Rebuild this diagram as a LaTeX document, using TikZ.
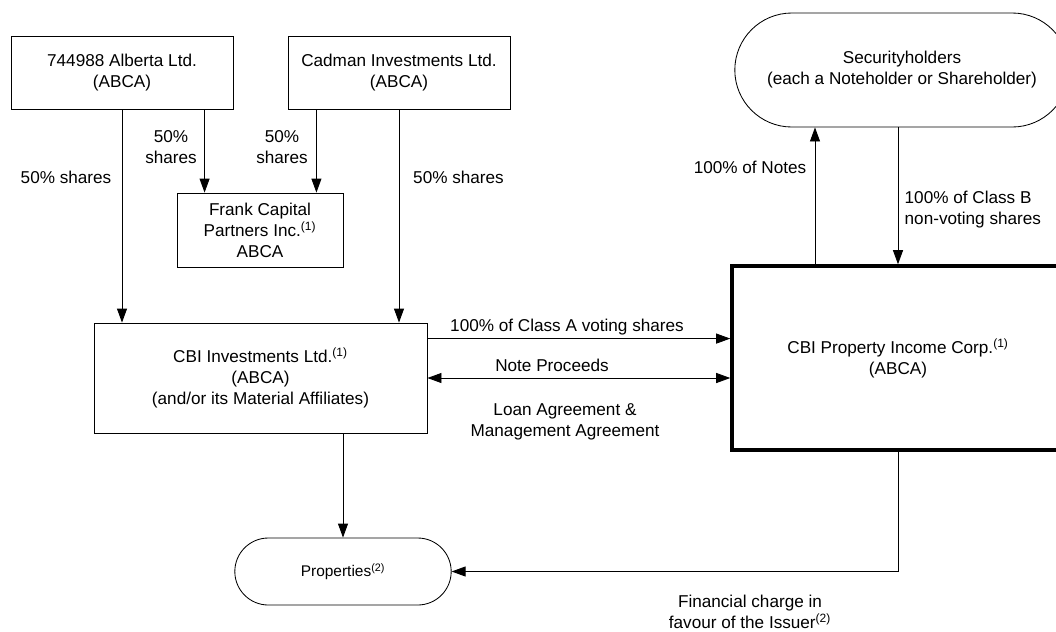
\documentclass[tikz,border=0pt]{standalone}
\usepackage{fontspec}
\setmainfont{Liberation Sans}
\usetikzlibrary{arrows.meta,shapes.misc}

\tikzset{
  box/.style={draw, line width=0.6pt, align=center, inner sep=2pt},
  pill/.style={draw, rounded rectangle, line width=0.6pt, align=center, inner sep=2pt},
  lbl/.style={align=center, inner sep=1pt},
  arr/.style={line width=0.6pt, -{Triangle[length=3.5mm,width=2.5mm]}},
  arrboth/.style={line width=0.6pt, {Triangle[length=3.5mm,width=2.5mm]}-{Triangle[length=3.5mm,width=2.5mm]}}
}

\begin{document}
\begin{tikzpicture}[x=0.25mm, y=-0.25mm, every node/.style={font=\fontsize{12.2}{14.9}\selectfont}]
\useasboundingbox (0,0) rectangle (1056,631);
\clip (0,0) rectangle (1056,631);
% draw owners
\node[box, minimum width=55.5mm, minimum height=18.25mm] (alb) at (122,72.5) {744988 Alberta Ltd.\\(ABCA)};
\node[box, minimum width=55.5mm, minimum height=18.25mm] (cad) at (399,72.5) {Cadman Investments Ltd.\\(ABCA)};
\node[box, minimum width=41.5mm, minimum height=18.5mm] (frank) at (260,230) {Frank Capital\\Partners Inc.\textsuperscript{(1)}\\ABCA};
% draw middle boxes
\node[box, minimum width=83.25mm, minimum height=27.5mm] (cbi) at (260.5,378) {CBI Investments Ltd.\textsuperscript{(1)}\\(ABCA)\\(and/or its Material Affiliates)};
\node[box, line width=2.5pt, minimum width=83mm, minimum height=46mm] (prop) at (898,358) {CBI Property Income Corp.\textsuperscript{(1)}\\(ABCA)};
\node[pill, minimum width=85mm, minimum height=28.5mm] (secu) at (902,70) {Securityholders\\(each a Noteholder or Shareholder)};
\node[pill, minimum width=55.5mm, minimum height=16.75mm, font=\fontsize{11}{13}\selectfont] (props) at (343,571.5) {Properties\textsuperscript{(2)}};
% draw share arrows
\coordinate (fa) at ([xshift=7mm]frank.north west);
\coordinate (fb) at ([xshift=-6.75mm]frank.north east);
\draw[arr] (alb.south) -- (alb.south |- cbi.north);
\draw[arr] (fa |- alb.south) -- (fa);
\draw[arr] (fb |- cad.south) -- (fb);
\draw[arr] (cad.south) -- (cad.south |- cbi.north);
\draw[arr] (cbi.south -| props.north) -- (props.north);
% draw arrows between cbi boxes
\coordinate (ca) at ([yshift=-4mm]cbi.north east);
\draw[arr] (ca) -- (ca -| prop.west);
\draw[arrboth] (cbi.east) -- (cbi.east -| prop.west);
\coordinate (pu) at ([xshift=-20.75mm]prop.north);
\draw[arr] (pu) -- (pu |- secu.south);
\draw[arr] (prop.north |- secu.south) -- (prop.north);
\draw[arr] (prop.south) |- (props.east);
% draw labels
\node[lbl] (l1) at (66,177) {50\% shares};
\node[lbl] (l2) at (171,147) {50\%\\shares};
\node[lbl] (l3) at (282,147) {50\%\\shares};
\node[lbl] (l4) at (458.5,177) {50\% shares};
\node[lbl] (l5) at (567,327) {100\% of Class A voting shares};
\node[lbl] (l6) at (552,365) {Note Proceeds};
\node[lbl] (l7) at (565,421.5) {Loan Agreement \&\\Management Agreement};
\node[lbl] (l8) at (750,167) {100\% of Notes};
\node[lbl, align=left, anchor=west] (l9) at (903,209.5) {100\% of Class B\\non-voting shares};
\node[lbl] (l10) at (750,612) {Financial charge in\\favour of the Issuer\textsuperscript{(2)}};
\end{tikzpicture}
\end{document}
